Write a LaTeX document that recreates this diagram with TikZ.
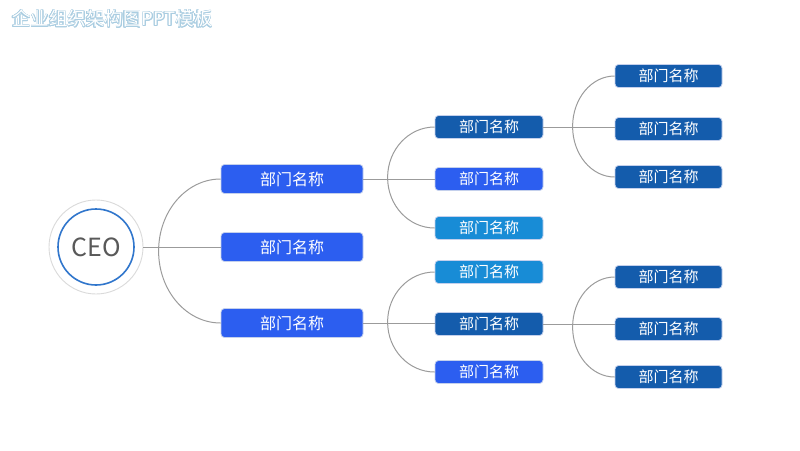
\documentclass[tikz,border=0pt]{standalone}
\usepackage{fontspec}
\usepackage{contour}
\newfontfamily\cjk{Noto Sans CJK SC}
\definecolor{deptblue}{RGB}{44,94,240}
\definecolor{deptdark}{RGB}{20,92,172}
\definecolor{deptlight}{RGB}{24,140,214}
\definecolor{boxedge}{RGB}{196,208,236}
\definecolor{linegray}{RGB}{155,155,155}
\definecolor{ringgray}{RGB}{218,218,218}
\definecolor{ceoring}{RGB}{48,118,204}
\definecolor{titleline}{RGB}{170,205,225}
\contourlength{0.7pt}
\contournumber{16}
\begin{document}
\begin{tikzpicture}[x=1pt, y=-1pt,
    dept/.style={draw=boxedge, line width=0.8pt, rounded corners=3.5pt, text=white,
      font=\cjk\fontsize{16}{16}\selectfont, minimum width=142pt, minimum height=29pt, inner sep=0pt},
    sub/.style={dept, minimum width=108pt, minimum height=23pt, font=\cjk\fontsize{15}{15}\selectfont},
    link/.style={draw=linegray, line width=1pt}]
    \useasboundingbox (0,0) rectangle (800,450);

    % Title
    \node[anchor=west, inner sep=0pt, font=\cjk\fontsize{18.5}{18.5}\selectfont] (title) at (12,19)
      {\contour{titleline}{\textcolor{white}{企业组织架构图PPT模板}}};

    % CEO
    \node[circle, draw=ringgray, fill=white, line width=0.9pt, minimum size=94pt] (ceoframe) at (96,247) {};
    \node[circle, draw=ceoring, line width=1.6pt, minimum size=76pt, text=black!65,
      font=\cjk\fontsize{25}{25}\selectfont] (ceo) at (96,247) {CEO};

    % Level 1 departments
    \node[dept, fill=deptblue] (d1) at (292,179) {部门名称};
    \node[dept, fill=deptblue] (d2) at (292,247) {部门名称};
    \node[dept, fill=deptblue] (d3) at (292,323) {部门名称};

    % Level 2 departments
    \node[sub, fill=deptdark]  (a1) at (489,127) {部门名称};
    \node[sub, fill=deptblue]  (a2) at (489,179) {部门名称};
    \node[sub, fill=deptlight] (a3) at (489,228) {部门名称};
    \node[sub, fill=deptlight] (b1) at (489,272) {部门名称};
    \node[sub, fill=deptdark]  (b2) at (489,324) {部门名称};
    \node[sub, fill=deptblue]  (b3) at (489,372) {部门名称};

    % Level 3 departments
    \node[sub, fill=deptdark, minimum width=107pt] (c1) at (668.5,76) {部门名称};
    \node[sub, fill=deptdark, minimum width=107pt] (c2) at (668.5,129) {部门名称};
    \node[sub, fill=deptdark, minimum width=107pt] (c3) at (668.5,177) {部门名称};
    \node[sub, fill=deptdark, minimum width=107pt] (e1) at (668.5,277) {部门名称};
    \node[sub, fill=deptdark, minimum width=107pt] (e2) at (668.5,329) {部门名称};
    \node[sub, fill=deptdark, minimum width=107pt] (e3) at (668.5,377) {部门名称};

    % Brackets
    \draw[link] (d1.west) arc[start angle=270, end angle=90, x radius=62, y radius=72];
    \draw[link] (a1.west) arc[start angle=270, end angle=90, x radius=47, y radius=50.5];
    \draw[link] (b1.west) arc[start angle=270, end angle=90, x radius=47, y radius=50];
    \draw[link] (c1.west) arc[start angle=270, end angle=90, x radius=42, y radius=50.5];
    \draw[link] (e1.west) arc[start angle=270, end angle=90, x radius=42, y radius=50];

    % Connectors
    \draw[link] (ceoframe.east) -- (d2.west);
    \draw[link] (d1.east) -- (d1.east -| a2.west);
    \draw[link] (d3.east) -- (d3.east -| b2.west);
    \draw[link] (a1.east) -- (a1.east -| c2.west);
    \draw[link] (b2.east) -- (b2.east -| e2.west);
\end{tikzpicture}
\end{document}
